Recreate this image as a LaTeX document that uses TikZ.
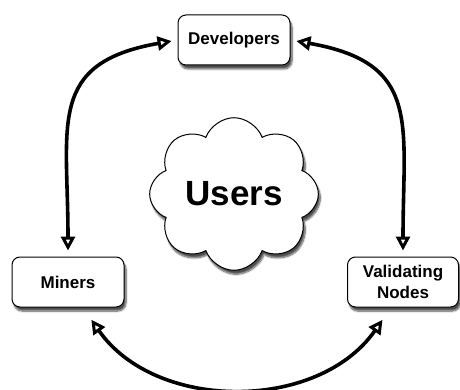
\documentclass[tikz,border=0pt]{standalone}
\usepackage{fontspec}
\setsansfont{Liberation Sans}
\usetikzlibrary{arrows.meta, shapes.symbols, shadows.blur}

\begin{document}
\begin{tikzpicture}[
  x=1pt,y=1pt,
  <->,>={Triangle[open,length=14pt,width=14pt,line width=3pt]},
  every node/.style={font=\sffamily\bfseries\fontsize{17}{21}\selectfont, align=center},
  box/.style={draw=black,fill=white,line width=1pt,rounded corners=8pt,minimum height=50pt,
    blur shadow={shadow xshift=2pt,shadow yshift=-4pt,shadow blur steps=8,shadow opacity=70}},
  every edge/.style={draw=black,line width=3.6pt,shorten <=6pt,shorten >=6pt}]

  \useasboundingbox (0,0) rectangle (460,389);

  \node[box, minimum width=112pt] (dev) at (234,349) {Developers};
  \node[box, minimum width=112pt] (mn)  at (68,107)  {Miners};
  \node[box, minimum width=111pt] (val) at (403,107) {Validating\\Nodes};

  \node[cloud, draw=black, fill=white, line width=1pt, cloud puffs=8, cloud puff arc=140,
    minimum width=166pt, minimum height=140pt, aspect=1.2,
    blur shadow={shadow xshift=2pt,shadow yshift=-4pt,shadow blur steps=8,shadow opacity=70},
    font=\sffamily\bfseries\fontsize{35}{40}\selectfont] (usr) at (234,195) {Users};

  \path
    (dev.west) edge[out=190,in=90,looseness=1.4]  (mn.north)
    (dev.east) edge[out=-10,in=90,looseness=1.4]  (val.north)
    (mn.-60)   edge[out=-55,in=-125,looseness=1.06,shorten <=15pt,shorten >=15pt] (val.-115)
  ;

\end{tikzpicture}
\end{document}
